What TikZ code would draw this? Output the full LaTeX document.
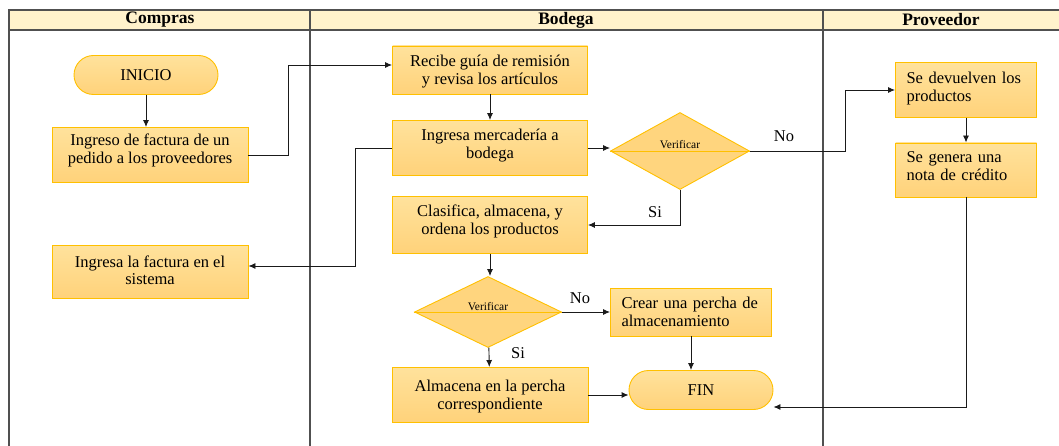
\documentclass[tikz,border=0pt]{standalone}
\usepackage{fontspec}
\setmainfont{Liberation Serif}
\usetikzlibrary{shapes.geometric,arrows.meta,positioning}

\definecolor{boxtop}{HTML}{FFE29C}
\definecolor{boxbot}{HTML}{FFD27A}
\definecolor{decfill}{HTML}{FFD57E}
\definecolor{boxline}{HTML}{FFC000}
\definecolor{headfill}{HTML}{FFF2CC}
\definecolor{laneline}{HTML}{505050}
\definecolor{flow}{HTML}{1A1A1A}

\begin{document}
\begin{tikzpicture}[x=1pt,y=-1pt,>={Latex[length=7pt,width=6pt]},
    box/.style={rectangle, draw=boxline, line width=0.9pt, top color=boxtop, bottom color=boxbot,
      align=center, inner sep=2pt, text depth=11pt, font=\fontsize{16.5}{17.5}\selectfont},
    leftbox/.style={box, align=left, text width=#1},
    pill/.style={rectangle, rounded corners=19.5pt, draw=boxline, line width=0.9pt,
      top color=boxtop, bottom color=boxbot, minimum width=144pt, minimum height=39pt,
      font=\fontsize{16.5}{17.5}\selectfont},
    decision/.style={diamond, draw=boxline, line width=0.9pt, fill=decfill, inner sep=0pt},
    small/.style={font=\fontsize{11.5}{13}\selectfont, anchor=base, inner sep=0pt},
    lbl/.style={font=\fontsize{16.5}{17.5}\selectfont, inner sep=0pt},
    head/.style={font=\fontsize{17.5}{19}\selectfont\bfseries, inner sep=0pt},
    lane/.style={draw=laneline, line width=1.2pt},
    flowline/.style={draw=flow, line width=0.9pt}]
    \useasboundingbox (0,0) rectangle (1059,446);

    % lanes
    \fill[headfill] (9,10) rectangle (1059,30);
    \draw[lane] (1059,10) -- (9,10) -- (9,446);
    \draw[lane] (9,30) -- (1059,30);
    \draw[lane] (310,10) -- (310,446);
    \draw[lane] (823,10) -- (823,446);
    \node[head] (hcompras) at (160,20) {Compras};
    \node[head] (hbodega) at (566,20) {Bodega};
    \node[head] (hprov) at (941,20) {Proveedor};

    % Compras
    \node[pill] (inicio) at (146,75) {INICIO};
    \node[box, minimum width=196pt, minimum height=55pt, text depth=13pt] (ingreso) at (150,155)
      {Ingreso de factura de un\\pedido a los proveedores};
    \node[box, minimum width=196pt, minimum height=53pt, text depth=4pt] (sistema) at (150,272)
      {Ingresa la factura en el\\sistema};

    % Bodega
    \node[box, minimum width=195pt, minimum height=48pt, text depth=0pt] (recibe) at (490,70)
      {Recibe guía de remisión\\y revisa los artículos};
    \node[box, minimum width=195pt, minimum height=55pt, text depth=8pt] (mercaderia) at (490,148)
      {Ingresa mercadería a\\bodega};
    \node[decision, minimum width=139pt, minimum height=77pt] (verif1) at (680,151) {};
    \node[box, minimum width=195pt, minimum height=57pt] (clasifica) at (490,225)
      {Clasifica, almacena, y\\ordena los productos};
    \node[decision, minimum width=147pt, minimum height=71pt] (verif2) at (488,312) {};
    \node[leftbox=139pt, minimum width=161pt, minimum height=48pt, text depth=18pt] (crear) at (691,312)
      {Crear una percha de\\almacenamiento};
    \node[box, minimum width=196pt, minimum height=55pt, text depth=0pt] (almacena) at (490,395)
      {Almacena en la percha\\correspondiente};
    \node[pill] (fin) at (701,390) {FIN};

    % Proveedor
    \node[leftbox=119pt, minimum width=141pt, minimum height=55pt, text depth=24pt] (devuelven) at (966,90)
      {Se devuelven los\\productos};
    \node[leftbox=119pt, minimum width=141pt, minimum height=54pt, text depth=25pt] (nota) at (966,170)
      {Se genera una\\nota de crédito};

    % diamonds
    \draw[boxline, line width=0.9pt] (verif1.west) -- (verif1.east);
    \draw[boxline, line width=0.9pt] (verif2.west) -- (verif2.east);
    \node[small] (v1txt) at ([yshift=2pt]verif1.center) {Verificar};
    \node[small] (v2txt) at ([yshift=2pt]verif2.center) {Verificar};

    % flow
    \draw[flowline, ->] (inicio.south) -- (inicio.south |- ingreso.north);
    \draw[flowline, ->] (ingreso.east) -- ++(40,0) |- ([yshift=5pt]recibe.west);
    \draw[flowline, ->] (recibe) -- (mercaderia);
    \draw[flowline, ->] (mercaderia.west) -- ++(-37,0) |- ([yshift=6pt]sistema.east);
    \draw[flowline, ->] (mercaderia.east) -- (mercaderia.east -| verif1.west);
    \draw[flowline, ->] (verif1.east) -- ++(95,0) |- (devuelven.west);
    \draw[flowline, ->] (verif1.south) |- (clasifica.east);
    \draw[flowline, ->] (clasifica.south) -- (clasifica.south |- verif2.north);
    \draw[flowline, ->] (verif2) -- (crear);
    \draw[flowline, ->] (verif2) -- (almacena);
    \draw[flowline, ->] (crear.south) -- (crear.south |- fin.north);
    \draw[flowline, ->] (almacena.east) -- (almacena.east -| fin.west);
    \draw[flowline, ->] (devuelven) -- (nota);
    \draw[flowline, ->] (nota.south) |- ([yshift=-17pt]fin.east);

    \node[lbl] (no1) at (784,136) {No};
    \node[lbl] (si1) at (655,212) {Si};
    \node[lbl] (no2) at (580,298) {No};
    \node[lbl] (si2) at (518,353) {Si};
\end{tikzpicture}
\end{document}
